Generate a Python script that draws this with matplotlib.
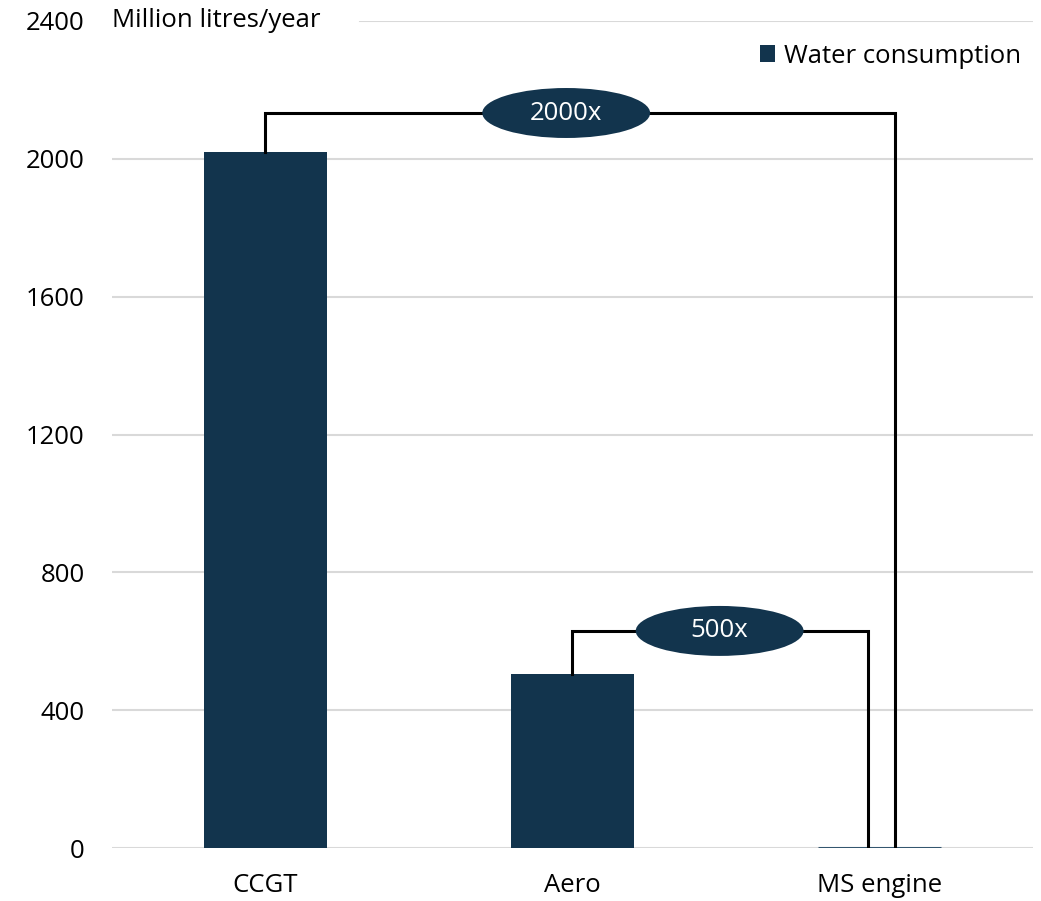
import matplotlib
matplotlib.use("Agg")
import matplotlib.pyplot as plt
from matplotlib.patches import Ellipse

plt.rcParams["font.family"] = ["Open Sans", "DejaVu Sans"]

# water consumption by plant type, million litres per year
categories = ["CCGT", "Aero", "MS engine"]
water_use = [2020, 505, 1]
ratio_labels = ["2000x", "500x"]
y_ticks = [0, 400, 800, 1200, 1600, 2000, 2400]

BAR = "#12344d"
GRID = "#d9d9d9"
FS = 18.5

fig = plt.figure(figsize=(10.41, 9.01), dpi=100)
ax = fig.add_axes([0.1076, 0.0588, 0.8844, 0.9179])
ax.set_xlim(-0.5, 2.5)
ax.set_ylim(0, 2400)

# gridlines; the top one leaves room for the unit label
for t in y_ticks:
    xmin = 0.269 if t == 2400 else 0.0
    ax.axhline(t, xmin=xmin, xmax=1.0, color=GRID, linewidth=1.5, zorder=0)

x = list(range(len(categories)))
ax.bar(x, water_use, width=0.4, color=BAR, edgecolor="#34566f", linewidth=2.2,
       zorder=2, label="Water consumption")
# keep the CCGT and Aero bars without a visible outline
for patch in ax.patches[:2]:
    patch.set_edgecolor(BAR)
    patch.set_linewidth(0)

for s in ax.spines.values():
    s.set_visible(False)

ax.set_yticks(y_ticks)
ax.set_yticklabels([str(t) for t in y_ticks], fontsize=FS)
ax.set_xticks(x)
ax.set_xticklabels(categories, fontsize=FS)
ax.tick_params(axis="y", length=0, pad=19.5)
ax.tick_params(axis="x", length=0, pad=18)

ax.text(0.0, 2400, "Million litres/year", fontsize=FS, ha="left", va="center",
        transform=ax.get_yaxis_transform())


def bracket(x0, y0, x1, y1, level, xc, text):
    ax.plot([x0, x0, x1, x1], [y0, level, level, y1], color="black",
            linewidth=2.2, zorder=3, solid_joinstyle="miter")
    ax.add_patch(Ellipse((xc, level), 0.547, 145, facecolor=BAR,
                         edgecolor="none", zorder=4))
    ax.text(xc, level, text, color="white", fontsize=FS, ha="center",
            va="center", zorder=5)


bracket(0, water_use[0], 2.05, water_use[2], 2133, 0.98, ratio_labels[0])
bracket(1, water_use[1], 1.962, water_use[2], 630, 1.48, ratio_labels[1])

leg = ax.legend(loc="upper right", bbox_to_anchor=(0.999, 0.985), frameon=False,
                fontsize=FS, handlelength=0.6, handleheight=0.6,
                handletextpad=0.35, borderaxespad=0)
for h in leg.legend_handles:
    h.set_edgecolor(BAR)

fig.savefig("out.png", dpi=100)
